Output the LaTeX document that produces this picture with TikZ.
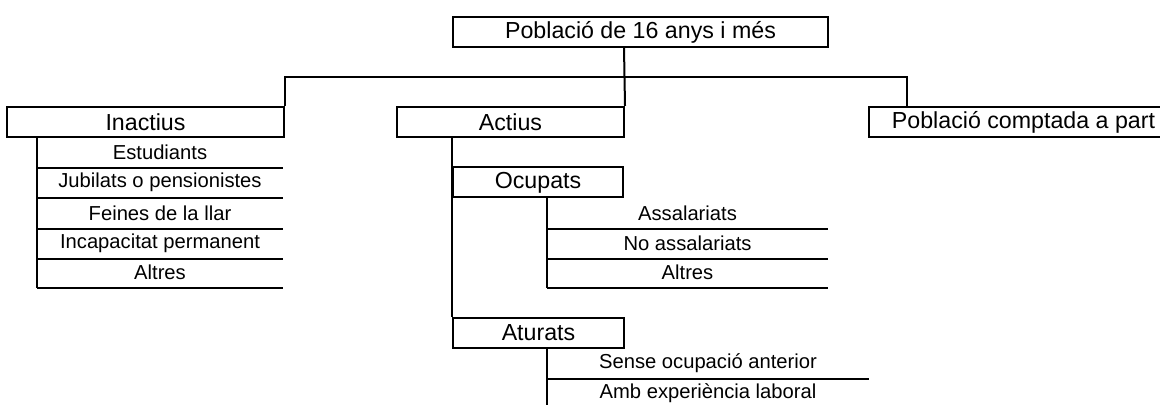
\documentclass[tikz,border=0pt]{standalone}
\usepackage{fontspec}
\setmainfont{Liberation Sans}
\begin{document}
\begin{tikzpicture}[x=0.5pt, y=-0.5pt, line width=1pt,
    caixa/.style={draw, inner sep=0pt, minimum height=15pt,
      font=\fontsize{11.6}{14}\selectfont},
    fila/.style={inner sep=0pt, minimum height=15pt,
      font=\fontsize{10.1}{12}\selectfont}]
  \useasboundingbox (0,0) rectangle (1160,405);

  % Main boxes
  \node[caixa, minimum width=187.5pt] (pob) at (640.5,32) {Població de 16 anys i més};
  \node[caixa, minimum width=138.5pt] (inact) at (145.5,122) {Inactius};
  \node[caixa, minimum width=113.5pt] (act) at (510.5,122) {Actius};
  \node[caixa, minimum width=154.5pt] (part) at (1023.5,122) {Població comptada a part};
  \node[caixa, minimum width=85pt] (ocup) at (538,182.5) {Ocupats};
  \node[caixa, minimum width=85.5pt] (atur) at (538.5,333) {Aturats};

  % Rows under Inactius
  \node[fila, minimum width=122pt] (est) at (160,152) {Estudiants};
  \node[fila, minimum width=122pt] (jub) at (160,182.5) {Jubilats o pensionistes};
  \node[fila, minimum width=122pt] (llar) at (160,213) {Feines de la llar};
  \node[fila, minimum width=122pt] (incap) at (160,243) {Incapacitat permanent};
  \node[fila, minimum width=122pt] (altin) at (160,272.5) {Altres};

  % Rows under Ocupats
  \node[fila, minimum width=139.5pt] (assal) at (687.5,213) {Assalariats};
  \node[fila, minimum width=139.5pt] (noassal) at (687.5,243) {No assalariats};
  \node[fila, minimum width=139.5pt] (altoc) at (687.5,272.5) {Altres};

  % Rows under Aturats
  \node[fila, minimum width=160pt] (sense) at (708,363) {Sense ocupació anterior};
  \node[fila, minimum width=160pt] (amb) at (708,393) {Amb experiència laboral};

  % Connectors
  \coordinate (bar) at (624,77);
  \coordinate (tpart) at (907,107);
  \draw (pob.south -| bar) -- (act.north east);
  \draw (inact.north east) |- (bar) -| (tpart);
  \draw (act.south -| ocup.west) -- (atur.north west);

  % Row rules
  \draw (inact.south -| est.west) -- (altin.south west);
  \draw (ocup.south -| assal.west) -- (altoc.south west);
  \draw (atur.south -| sense.west) -- (amb.south west);
  \foreach \r in {est, jub, llar, incap, altin, assal, noassal, altoc, sense, amb}
    \draw (\r.south west) -- (\r.south east);
\end{tikzpicture}
\end{document}
